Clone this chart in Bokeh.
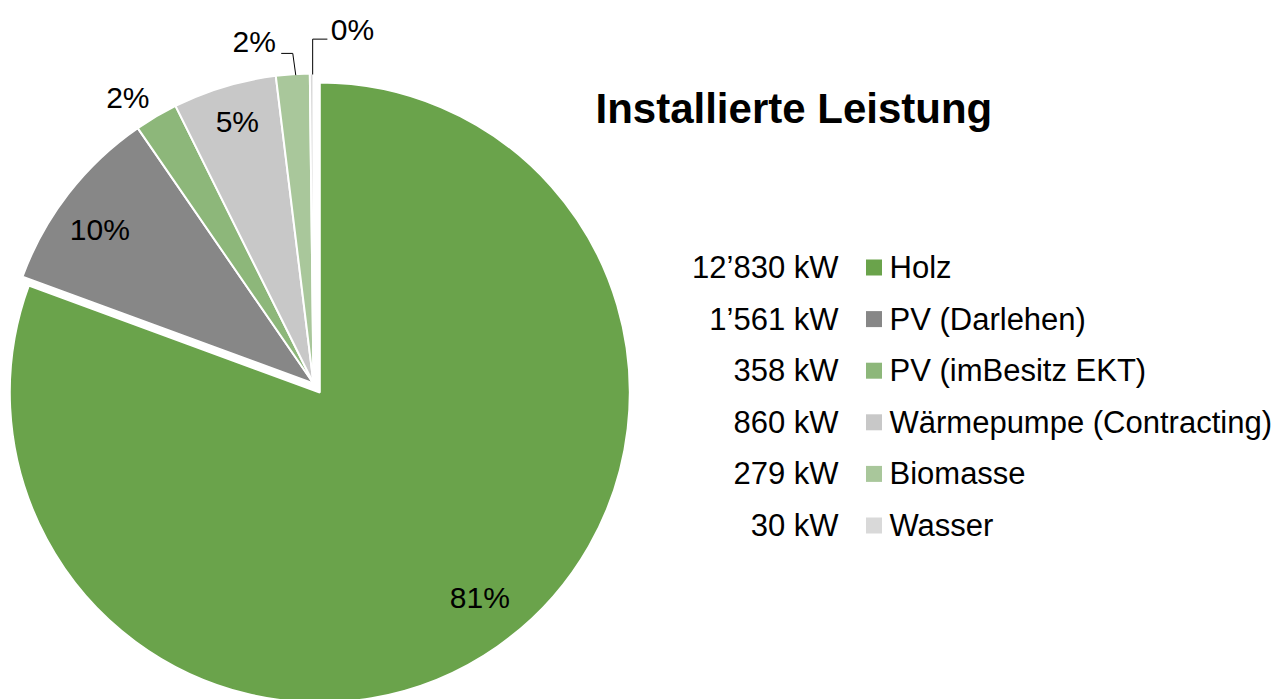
import math
from bokeh.plotting import figure
from bokeh.models import Range1d
from bokeh.core.properties import value
from bokeh.embed import file_html
from bokeh.resources import INLINE

# ---------------- data ----------------
categories = ["Holz", "PV (Darlehen)", "PV (imBesitz EKT)",
              "Wärmepumpe (Contracting)", "Biomasse", "Wasser"]
values_kw = [12830, 1561, 358, 860, 279, 30]
colors = ["#6aa34b", "#878787", "#8db77a", "#c8c8c8", "#a9c79b", "#d9d9d9"]
title_text = "Installierte Leistung"

# ---------------- layout (image pixel coords) ----------------
W, H = 1287, 699
CX, CY = 313, 383           # pie centre
R = 310                     # pie radius
explode = [11, 0, 0, 0, 0, 0]
# label placement: (radius factor, angle delta in degrees, leader)
label_layout = [(0.84, -3.0, None), (0.85, -2.0, None), (1.10, -2.5, None),
                (0.88, 0.5, None), (1.12, -6.0, "right"), (1.15, 6.6, "left")]
FONT = "Liberation Sans"


def yd(y_img):
    return H - y_img


p = figure(width=W, height=H, output_backend="svg", toolbar_location=None,
           x_range=Range1d(0, W), y_range=Range1d(0, H),
           min_border=0)
p.axis.visible = False
p.grid.visible = False
p.outline_line_color = None
p.background_fill_color = "white"
p.border_fill_color = "white"

total = sum(values_kw)
fracs = [v / total for v in values_kw]
pct_labels = [f"{round(f * 100)}%" for f in fracs]
kw_labels = [f"{v:,}".replace(",", "\u2019") + " kW" for v in values_kw]

cum = 0.0
for i, f in enumerate(fracs):
    a0 = cum * 360.0            # clockwise from top, degrees
    a1 = (cum + f) * 360.0
    mid = (a0 + a1) / 2
    cum += f
    ex = explode[i]
    cx = CX + ex * math.sin(math.radians(mid))
    cy = CY - ex * math.cos(math.radians(mid))
    start = math.radians(90 - a0)
    end = math.radians(90 - a1)
    p.wedge(x=[cx], y=[yd(cy)], radius=R, start_angle=[start], end_angle=[end],
            direction="clock", fill_color=colors[i], line_color="white",
            line_width=2)

    k, dlt, leader = label_layout[i]
    th = math.radians(mid + dlt)
    lx = cx + k * R * math.sin(th)
    ly = cy - k * R * math.cos(th)
    p.text(x=[lx], y=[yd(ly)], text=[pct_labels[i]], text_font=value(FONT),
           text_font_size="30px", text_align="center", text_baseline="middle",
           text_color="black")
    if leader is not None:
        th_m = math.radians(mid)
        ex_x = cx + R * math.sin(th_m) + (3 if leader == "right" else 1)
        ex_y = cy - R * math.cos(th_m) + 1
        if leader == "right":
            ey = ly + 12
            hx = lx + 27
        else:
            ey = ly + 10
            hx = lx - 25
        p.line(x=[ex_x, ex_x - (3 if leader == "right" else 0), hx],
               y=[yd(ex_y), yd(ey), yd(ey)], line_color="black", line_width=1)

# title
p.text(x=[595], y=[yd(108)], text=[title_text], text_font=value(FONT),
       text_font_size="42px", text_font_style="bold", text_align="left",
       text_baseline="middle", text_color="black")

# legend
row0, step = 267, 51.6
ys = [yd(row0 + i * step) for i in range(len(categories))]
p.text(x=[838] * len(categories), y=ys, text=kw_labels, text_font=value(FONT),
       text_font_size="31px", text_align="right", text_baseline="middle",
       text_color="black")
p.rect(x=[873.5] * len(categories), y=ys, width=16, height=16,
       fill_color=colors, line_color=None)
p.text(x=[889] * len(categories), y=ys, text=categories, text_font=value(FONT),
       text_font_size="31px", text_align="left", text_baseline="middle",
       text_color="black")

open("out.html", "w").write(file_html(p, INLINE))
